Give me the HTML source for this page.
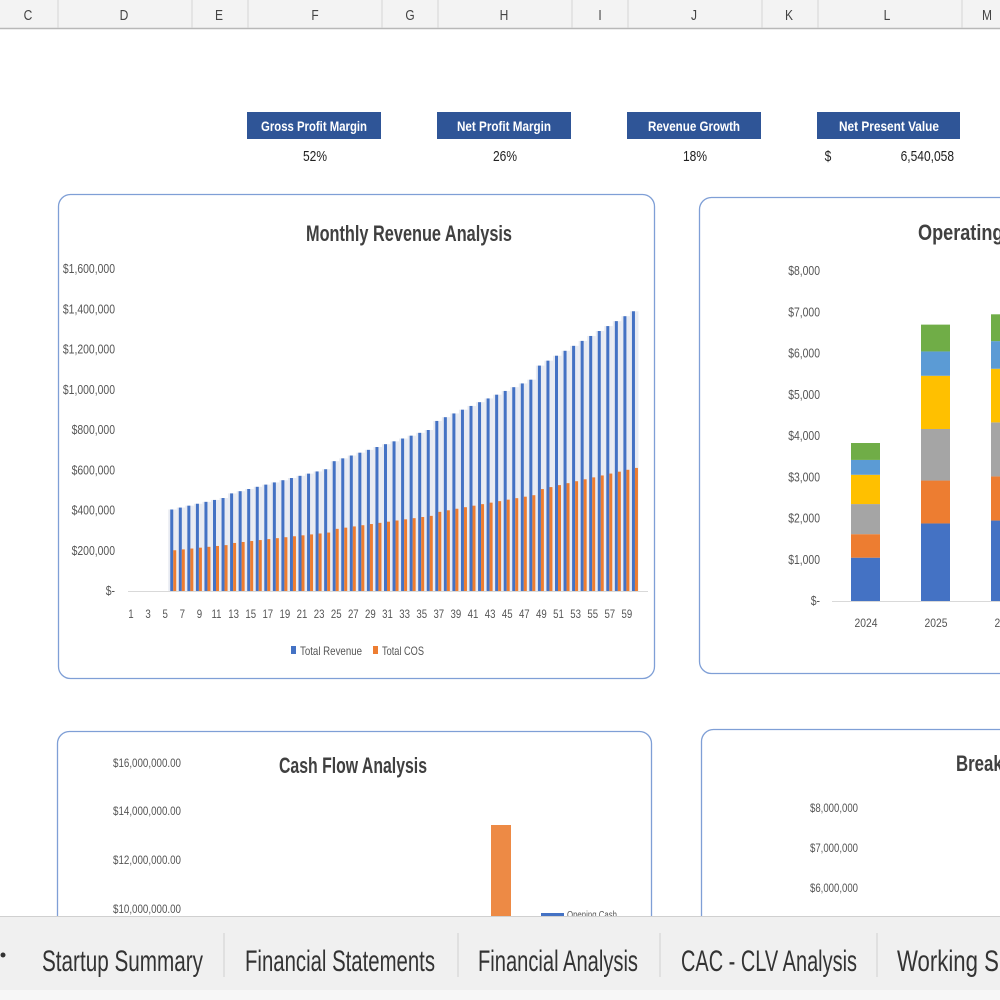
<!DOCTYPE html>
<html><head><meta charset="utf-8"><style>
html,body{margin:0;padding:0;background:#fff;width:1000px;height:1000px;overflow:hidden}
svg{display:block}
text{font-family:"Liberation Sans",sans-serif}
</style></head><body>
<svg id="s" width="1000" height="1000" viewBox="0 0 1000 1000" xmlns="http://www.w3.org/2000/svg">
<rect width="1000" height="1000" fill="#fff"/>
<rect x="0" y="0" width="1000" height="28" fill="#f3f3f3"/>
<line x1="0" y1="28.5" x2="1000" y2="28.5" stroke="#b8b8b8" stroke-width="1.5"/>
<g stroke="#d4d4d4" stroke-width="1">
<line x1="58" y1="0" x2="58" y2="28"/><line x1="192" y1="0" x2="192" y2="28"/><line x1="248" y1="0" x2="248" y2="28"/>
<line x1="382" y1="0" x2="382" y2="28"/><line x1="438" y1="0" x2="438" y2="28"/><line x1="572" y1="0" x2="572" y2="28"/>
<line x1="628" y1="0" x2="628" y2="28"/><line x1="762" y1="0" x2="762" y2="28"/><line x1="818" y1="0" x2="818" y2="28"/>
<line x1="962" y1="0" x2="962" y2="28"/></g>
<g font-size="15" fill="#444" text-anchor="middle">
<text x="28" y="20">C</text><text x="124" y="20">D</text><text x="219" y="20">E</text><text x="315" y="20">F</text>
<text x="410" y="20">G</text><text x="504" y="20">H</text><text x="600" y="20">I</text><text x="694" y="20">J</text>
<text x="789" y="20">K</text><text x="887" y="20">L</text><text x="987" y="20">M</text></g>
<g fill="#2f5597"><rect x="247" y="112" width="134" height="27"/><rect x="437" y="112" width="134" height="27"/><rect x="627" y="112" width="134" height="27"/><rect x="817" y="112" width="143" height="27"/></g>
<g font-size="14" fill="#fff" font-weight="bold" text-anchor="middle">
<text x="314" y="131" textLength="106">Gross Profit Margin</text><text x="504" y="131" textLength="94">Net Profit Margin</text>
<text x="694" y="131" textLength="92">Revenue Growth</text><text x="889" y="131" textLength="100">Net Present Value</text></g>
<g font-size="15" fill="#222" text-anchor="middle">
<text x="315" y="161">52%</text><text x="505" y="161">26%</text><text x="695" y="161">18%</text>
<text x="828" y="161">$</text><text x="954" y="161" text-anchor="end">6,540,058</text></g>
<rect x="58.5" y="194.5" width="596" height="484" rx="12" fill="#fff" stroke="#7f9fd6" stroke-width="1.3"/>
<text x="409" y="241" font-size="22" font-weight="bold" fill="#404040" text-anchor="middle" textLength="206">Monthly Revenue Analysis</text>
<g id="y1" font-size="13" fill="#555" text-anchor="end"></g>
<g id="bars1"></g>
<line x1="128" y1="591.5" x2="648" y2="591.5" stroke="#d9d9d9"/>
<g id="x1" font-size="12" fill="#555" text-anchor="middle"></g>
<rect x="291" y="646" width="5" height="8" fill="#4472c4"/><text x="300" y="655" font-size="12" fill="#555" textLength="62">Total Revenue</text>
<rect x="373" y="646" width="5" height="8" fill="#ed7d31"/><text x="382" y="655" font-size="12" fill="#555" textLength="42">Total COS</text>
<rect x="699.5" y="197.5" width="320" height="476" rx="12" fill="#fff" stroke="#7f9fd6" stroke-width="1.3"/>
<text x="918" y="240" font-size="22" font-weight="bold" fill="#404040" textLength="175">Operating Expenses</text>
<g id="y2" font-size="13" fill="#555" text-anchor="end"></g>
<line x1="832" y1="601.5" x2="1000" y2="601.5" stroke="#d9d9d9"/>
<g id="bars2"></g>
<g font-size="12" fill="#555" text-anchor="middle"><text x="866" y="627" textLength="23">2024</text><text x="936" y="627" textLength="23">2025</text><text x="1006" y="627" textLength="23">2026</text></g>
<rect x="57.5" y="731.5" width="594" height="300" rx="12" fill="#fff" stroke="#7f9fd6" stroke-width="1.3"/>
<text x="353" y="773" font-size="22" font-weight="bold" fill="#404040" text-anchor="middle" textLength="148">Cash Flow Analysis</text>
<g font-size="12" fill="#555"><text x="113" y="767" textLength="68">$16,000,000.00</text><text x="113" y="815" textLength="68">$14,000,000.00</text>
<text x="113" y="864" textLength="68">$12,000,000.00</text><text x="113" y="913" textLength="68">$10,000,000.00</text></g>
<rect x="491" y="825" width="20" height="95" fill="#ed8a45"/>
<rect x="541" y="913" width="23" height="3" fill="#4472c4"/><text x="567" y="918" font-size="10" fill="#555" textLength="50">Opening Cash</text>
<rect x="701.5" y="729.5" width="320" height="300" rx="12" fill="#fff" stroke="#7f9fd6" stroke-width="1.3"/>
<text x="956" y="771" font-size="22" font-weight="bold" fill="#404040" textLength="85">Breakeven</text>
<g font-size="12" fill="#555"><text x="810" y="812" textLength="48">$8,000,000</text><text x="810" y="852" textLength="48">$7,000,000</text><text x="810" y="892" textLength="48">$6,000,000</text></g>
<rect x="0" y="916" width="1000" height="84" fill="#f0f0f0"/>
<line x1="0" y1="916.5" x2="1000" y2="916.5" stroke="#d0d0d0"/>
<rect x="0" y="990" width="1000" height="10" fill="#f7f7f7"/>
<g stroke="#d0d0d0"><line x1="224" y1="933" x2="224" y2="977"/><line x1="458" y1="933" x2="458" y2="977"/><line x1="660" y1="933" x2="660" y2="977"/><line x1="877" y1="933" x2="877" y2="977"/></g>
<circle cx="3" cy="955" r="2.5" fill="#333"/>
<g font-size="30" fill="#333">
<text x="42" y="971" textLength="161">Startup Summary</text><text x="245" y="971" textLength="190">Financial Statements</text>
<text x="478" y="971" textLength="160">Financial Analysis</text><text x="681" y="971" textLength="176">CAC - CLV Analysis</text>
<text x="897" y="971" textLength="145">Working Sheet</text></g>
</svg>
<script>
var NS="http://www.w3.org/2000/svg";
function el(p,t,a,txt){var e=document.createElementNS(NS,t);for(var k in a)e.setAttribute(k,a[k]);if(txt!=null)e.textContent=txt;document.getElementById(p).appendChild(e);return e;}
var lab=["$-","$200,000","$400,000","$600,000","$800,000","$1,000,000","$1,200,000","$1,400,000","$1,600,000"];
for(var i=0;i<9;i++)el("y1","text",{x:115,y:595-i*40.25},lab[i]);
var segs=[[6,12,405,462],[13,24,485,605],[25,36,645,800],[37,48,845,1050],[49,60,1120,1390]];
function rev(m){for(var s of segs){if(m>=s[0]&&m<=s[1])return s[2]+(s[3]-s[2])*(m-s[0])/Math.max(1,s[1]-s[0]);}return 0;}
for(var m=1;m<=60;m++){
 var cx=131+(m-1)*8.55, r=rev(m);
 if(m%2==1)el("x1","text",{x:cx,y:618},m);
 if(r<=0)continue;
 var c=r*(0.5-0.06*(m-6)/54);
 var hr=r/200*40.25, hc=c/200*40.25;
 el("bars1","rect",{x:cx-5.5,y:591-hr,width:8.5,height:hr,fill:"#e8ebf2"});
 el("bars1","rect",{x:cx-3.5,y:591-hr,width:3,height:hr,fill:"#4472c4"});
 el("bars1","rect",{x:cx-0.5,y:591-hc,width:3,height:hc,fill:"#ed7d31"});
}
var l2=["$-","$1,000","$2,000","$3,000","$4,000","$5,000","$6,000","$7,000","$8,000"];
for(var i=0;i<9;i++)el("y2","text",{x:820,y:605-i*41.25},l2[i]);
var cols=["#4472c4","#ed7d31","#a5a5a5","#ffc000","#5b9bd5","#70ad47"];
var data=[[851,[1050,1620,2350,3060,3420,3830]],[921,[1880,2920,4170,5460,6050,6700]],[991,[1950,3020,4330,5630,6300,6950]]];
data.forEach(function(d){var prev=0;d[1].forEach(function(v,j){var y1=601-v*0.04125,y0=601-prev*0.04125;el("bars2","rect",{x:d[0],y:y1,width:29,height:y0-y1,fill:cols[j]});prev=v;});});
var ts=document.querySelectorAll("text");
for(var i=0;i<ts.length;i++){var t=ts[i];
 if(!t.getAttribute("textLength")){var w=t.getComputedTextLength();if(w>0)t.setAttribute("textLength",(w*0.8).toFixed(1));}
 t.setAttribute("lengthAdjust","spacingAndGlyphs");}
</script>
</body></html>
